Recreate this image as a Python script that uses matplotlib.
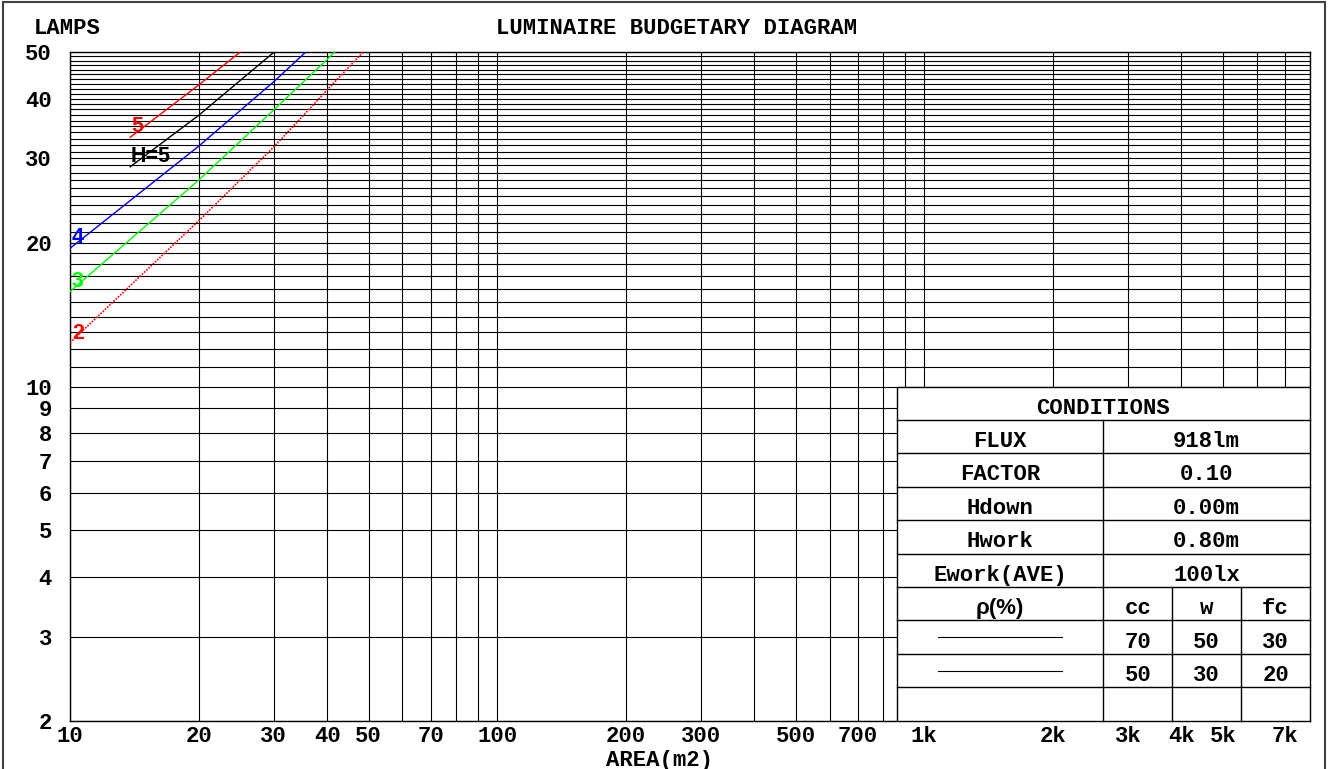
import matplotlib
matplotlib.use('Agg')
import matplotlib.pyplot as plt
from matplotlib.patches import Rectangle

# ---------------- data ----------------
area_r2 = [10, 20, 30, 40, 48.5]
lamps_r2 = [12.35, 22.2, 31.7, 41.7, 50]
area_r3 = [10, 20, 30, 40, 41.6]
lamps_r3 = [15.8, 27.0, 37.9, 48.3, 50]
area_r4 = [10, 20, 30, 35.6]
lamps_r4 = [19.45, 31.8, 43.4, 50]
area_r5 = [13.83, 20, 25.0]
lamps_r5 = [33.2, 42.7, 50]
area_h5 = [13.83, 20, 30.0]
lamps_h5 = [28.8, 36.9, 50]

x_ticks = [10, 20, 30, 40, 50, 60, 70, 80, 90,
           100, 200, 300, 400, 500, 600, 700, 800, 900,
           1000, 2000, 3000, 4000, 5000, 6000, 7000, 8000]
x_ticklabels = ['10', '20', '30', '40', '50', '', '70', '', '',
                '100', '200', '300', '', '500', '', '700', '', '',
                '1k', '2k', '3k', '4k', '5k', '', '7k', '']
y_ticks = [2, 3, 4, 5, 6, 7, 8, 9] + list(range(10, 51))
y_ticklabels = ['2', '3', '4', '5', '6', '7', '8', '9'] + \
    [str(v) if v in (10, 20, 30, 40, 50) else '' for v in range(10, 51)]

cond_labels = ['FLUX', 'FACTOR', 'Hdown', 'Hwork', 'Ework(AVE)']
cond_values = ['918lm', '0.10', '0.00m', '0.80m', '100lx']
rho_heads = ['cc', 'w', 'fc']
rho_row1 = ['70', '50', '30']
rho_row2 = ['50', '30', '20']

# ---------------- figure ----------------
W, H = 1328, 769
fig = plt.figure(figsize=(W / 100, H / 100), dpi=100)
MONO = 'Liberation Mono'
SANS = 'Liberation Sans'
FS = 16

ax_l, ax_r, ax_t, ax_b = 70, 1310, 52.3, 720.7
ax = fig.add_axes([ax_l / W, (H - ax_b) / H, (ax_r - ax_l) / W, (ax_b - ax_t) / H])
ax.set_xscale('log')
ax.set_yscale('log')
ax.set_xlim(10, 8000)
ax.set_ylim(2, 50)
ax.minorticks_off()
ax.set_xticks(x_ticks)
ax.set_xticklabels(x_ticklabels)
ax.set_yticks(y_ticks)
ax.set_yticklabels(y_ticklabels)
ax.tick_params(length=0, labelsize=FS)
ax.tick_params(axis='x', pad=4)
ax.tick_params(axis='y', pad=13)
for lab in ax.get_xticklabels() + ax.get_yticklabels():
    lab.set_fontfamily(MONO)
    lab.set_fontweight('bold')
ax.grid(True, which='major', color='black', lw=0.8)
ax.set_axisbelow(True)
for s in ax.spines.values():
    s.set_color('black')
    s.set_linewidth(1.0)

# curves
ax.plot(area_r2, lamps_r2, color='#ff0000', lw=1.2, ls=(0, (1, 0.8)), zorder=3)
ax.plot(area_r3, lamps_r3, color='#00ff00', lw=1.0, zorder=3)
ax.plot(area_r4, lamps_r4, color='#0000ff', lw=1.0, zorder=3)
ax.plot(area_r5, lamps_r5, color='#ff0000', lw=1.0, zorder=3)
ax.plot(area_h5, lamps_h5, color='black', lw=1.0, zorder=3)

lab_kw = dict(fontfamily=SANS, fontweight='bold', fontsize=15.5, va='baseline', ha='left', zorder=4)
ax.text(13.9, 34.1, '5', color='#ff0000', **lab_kw)
ax.text(13.9, 29.5, 'H=5', color='black', **lab_kw)
ax.text(10.1, 19.95, '4', color='#0000ff', **lab_kw)
ax.text(10.1, 16.14, '3', color='#00ff00', **lab_kw)
ax.text(10.1, 12.57, '2', color='#ff0000', **lab_kw)

# ---------------- conditions table ----------------
tx0, tx1, tx2 = 2 / 3, 5 / 6, 1.0
sub1, sub2 = 5 / 6 + 1 / 18, 5 / 6 + 2 / 18
rowh = 0.05
ax.add_patch(Rectangle((tx0, 0), tx2 - tx0, 0.5, transform=ax.transAxes,
                       facecolor='white', edgecolor='black', lw=1.0, zorder=5))
lkw = dict(transform=ax.transAxes, color='black', lw=1.0, zorder=6, clip_on=False)
for i in range(1, 10):
    yy = 0.5 - i * rowh
    ax.plot([tx0, tx2], [yy, yy], **lkw)
ax.plot([tx1, tx1], [0, 0.45], **lkw)
for sx in (sub1, sub2):
    ax.plot([sx, sx], [0, 0.20], **lkw)

tkw = dict(transform=ax.transAxes, fontfamily=MONO, fontweight='bold', fontsize=FS,
           ha='center', va='baseline', zorder=7)
off = 0.0095


def row_bottom(i):
    return 0.5 - (i + 1) * rowh


ax.text((tx0 + tx2) / 2, row_bottom(0) + off, 'CONDITIONS', **tkw)
for i, (lab, val) in enumerate(zip(cond_labels, cond_values), start=1):
    ax.text((tx0 + tx1) / 2, row_bottom(i) + off, lab, **tkw)
    ax.text((tx1 + tx2) / 2, row_bottom(i) + off, val, **tkw)
subc = [(tx1 + sub1) / 2, (sub1 + sub2) / 2, (sub2 + tx2) / 2]
ax.text((tx0 + tx1) / 2, row_bottom(6) + off, 'ρ(%)', transform=ax.transAxes,
        fontfamily=[SANS], fontweight='bold', fontsize=FS, ha='center', va='baseline', zorder=7)
for c, t in zip(subc, rho_heads):
    ax.text(c, row_bottom(6) + off, t, **tkw)
for c, t in zip(subc, rho_row1):
    ax.text(c, row_bottom(7) + off, t, **tkw)
for c, t in zip(subc, rho_row2):
    ax.text(c, row_bottom(8) + off, t, **tkw)
sx0 = (938 - ax_l) / (ax_r - ax_l)
sx1 = (1062 - ax_l) / (ax_r - ax_l)
for i in (7, 8):
    yc = row_bottom(i) + rowh / 2
    ax.plot([sx0, sx1], [yc, yc], transform=ax.transAxes, color='black', lw=0.8, zorder=7)

# ---------------- titles ----------------
fig.text(676.5 / W, 1 - 33.5 / H, 'LUMINAIRE BUDGETARY DIAGRAM', ha='center', va='baseline',
         fontfamily=MONO, fontweight='bold', fontsize=FS)
fig.text(67.5 / W, 1 - 34 / H, 'LAMPS', ha='center', va='baseline',
         fontfamily=MONO, fontweight='bold', fontsize=FS)
fig.text(660 / W, 1 - 766 / H, 'AREA(m2)', ha='center', va='baseline',
         fontfamily=MONO, fontweight='bold', fontsize=FS)

# figure border
fig.patches.append(Rectangle((3 / W, -0.02), (1325 - 3) / W, 1 - 1.7 / H + 0.02,
                             transform=fig.transFigure, fill=False,
                             edgecolor='#404040', lw=1.5))

fig.savefig('out.png', dpi=100)
